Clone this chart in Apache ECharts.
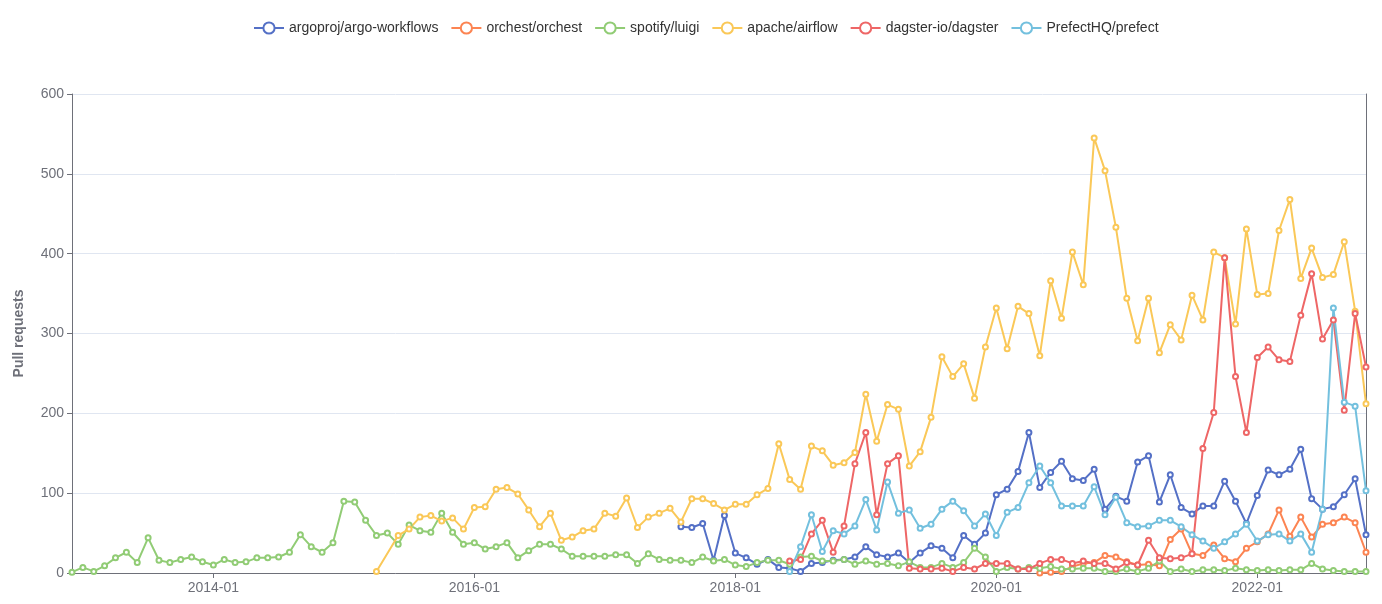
<!DOCTYPE html>
<html>
<head>
<meta charset="utf-8">
<script src="https://cdn.jsdelivr.net/npm/echarts@6/dist/echarts.min.js"></script>
<style>html,body{margin:0;padding:0;background:#fff;}#c{width:1382px;height:604px;}</style>
</head>
<body>
<div id="c"></div>
<script>
// Monthly categories: 2012-12 .. 2022-11 (120 months)
const startYear = 2012, startMonth = 12, monthCount = 120;
const categories = [];
for (let i = 0; i < monthCount; i++) {
  const t = (startMonth - 1) + i;
  const y = startYear + Math.floor(t / 12);
  const m = (t % 12) + 1;
  categories.push(y + '-' + (m < 10 ? '0' + m : '' + m));
}
const xTickLabels = ['2014-01', '2016-01', '2018-01', '2020-01', '2022-01'];
const seriesNames = ['argoproj/argo-workflows', 'orchest/orchest', 'spotify/luigi', 'apache/airflow', 'dagster-io/dagster', 'PrefectHQ/prefect'];

const N = null;
// argoproj/argo-workflows (starts 2017-08)
const argo = [N,N,N,N,N,N,N,N,N,N, N,N,N,N,N,N,N,N,N,N, N,N,N,N,N,N,N,N,N,N,
  N,N,N,N,N,N,N,N,N,N, N,N,N,N,N,N,N,N,N,N, N,N,N,N,N,N,
  58,57,62,16,72,25,19,11,17,7, 6,2,12,13,16,17,20,33,23,20,
  25,13,25,34,31,19,47,36,50,98, 105,127,176,107,126,140,118,116,130,80,
  96,90,139,147,89,123,82,74,84,84, 115,90,62,97,129,123,130,155,93,80,
  83,98,118,48];
// orchest/orchest (starts 2020-05)
const orchest = [N,N,N,N,N,N,N,N,N,N, N,N,N,N,N,N,N,N,N,N, N,N,N,N,N,N,N,N,N,N,
  N,N,N,N,N,N,N,N,N,N, N,N,N,N,N,N,N,N,N,N, N,N,N,N,N,N,N,N,N,N,
  N,N,N,N,N,N,N,N,N,N, N,N,N,N,N,N,N,N,N,N, N,N,N,N,N,N,N,N,N,
  0,1,2,8,12,13,22,20,14,10, 11,9,42,55,24,22,35,18,14,31,
  39,49,79,46,70,45,61,63,70,63, 26];
// spotify/luigi
const luigi = [1,7,2,9,19,26,13,44,16,13, 17,20,14,10,17,13,14,19,19,20,
  26,48,33,26,38,90,89,66,47,50, 36,60,53,51,75,51,36,38,30,33,
  38,19,28,36,36,30,21,21,21,21, 23,23,12,24,17,16,16,13,20,15,
  17,10,8,13,16,16,11,20,21,15, 15,17,11,15,11,12,9,14,7,7,
  12,7,13,31,20,2,7,5,7,6, 8,5,5,6,6,2,2,5,2,6,
  15,2,5,2,4,4,3,6,4,3, 4,3,4,4,12,5,3,2,2,2];
// apache/airflow (starts 2015-04)
const airflow = [N,N,N,N,N,N,N,N,N,N, N,N,N,N,N,N,N,N,N,N, N,N,N,N,N,N,N,N,
  2,N,47,55,70,72,65,69,55,82,83,105, 107,99,79,58,75,41,45,53,55,75,
  71,94,57,70,75,81,64,93,93,87, 79,86,86,98,106,162,117,105,159,153,
  135,138,151,224,165,211,205,134,152,195, 271,246,262,219,283,332,281,334,325,272,
  366,319,402,361,545,504,433,344,291,344, 276,311,292,348,317,402,395,312,431,349,
  350,429,468,369,407,370,374,415,328,212];
// dagster-io/dagster (starts 2018-06)
const dagster = [N,N,N,N,N,N,N,N,N,N, N,N,N,N,N,N,N,N,N,N, N,N,N,N,N,N,N,N,N,N,
  N,N,N,N,N,N,N,N,N,N, N,N,N,N,N,N,N,N,N,N, N,N,N,N,N,N,N,N,N,N, N,N,N,N,N,N,
  15,17,49,66,26,59,137,176,73,137, 147,6,5,5,6,2,7,5,12,12,
  12,5,5,12,17,17,12,15,12,12, 5,13,10,41,19,18,19,24,156,201,
  395,246,176,270,283,267,265,323,375,293, 317,204,325,258];
// PrefectHQ/prefect (starts 2018-06)
const prefect = [N,N,N,N,N,N,N,N,N,N, N,N,N,N,N,N,N,N,N,N, N,N,N,N,N,N,N,N,N,N,
  N,N,N,N,N,N,N,N,N,N, N,N,N,N,N,N,N,N,N,N, N,N,N,N,N,N,N,N,N,N, N,N,N,N,N,N,
  2,33,73,27,53,49,59,92,54,114, 75,79,56,61,80,90,78,59,74,47,
  76,82,113,134,113,84,84,84,108,73, 95,63,58,59,66,66,58,48,40,31,
  39,49,61,40,48,49,40,49,26,80, 332,214,209,103];

const colors = ['#5470c6', '#fc8452', '#91cc75', '#fac858', '#ee6666', '#73c0de'];
const seriesData = [argo, orchest, luigi, airflow, dagster, prefect];

const chart = echarts.init(document.getElementById('c'), null, {renderer: 'canvas'});
const axisGray = '#6E7079';
chart.setOption({
  animation: false,
  color: colors,
  textStyle: {fontFamily: 'Liberation Sans, Arial, sans-serif'},
  legend: {
    top: 16,
    left: 248,
    itemGap: 12,
    itemWidth: 30,
    itemHeight: 14,
    textStyle: {fontSize: 14, color: '#333'},
    data: seriesNames
  },
  grid: {left: 72, right: 16, top: 94, bottom: 31, containLabel: false},
  xAxis: {
    type: 'category',
    data: categories,
    boundaryGap: false,
    axisLine: {lineStyle: {color: axisGray}},
    axisTick: {interval: (i, v) => xTickLabels.indexOf(v) >= 0, lineStyle: {color: axisGray}},
    axisLabel: {interval: (i, v) => xTickLabels.indexOf(v) >= 0, color: axisGray, fontSize: 14, margin: 8},
    splitLine: {show: false}
  },
  yAxis: [{
    type: 'value',
    min: 0, max: 600, interval: 100,
    name: 'Pull requests',
    nameLocation: 'middle',
    nameGap: 46,
    nameTextStyle: {fontWeight: 'bold', color: axisGray, fontSize: 14},
    axisLine: {show: true, lineStyle: {color: axisGray}},
    axisTick: {show: true, lineStyle: {color: axisGray}},
    axisLabel: {color: axisGray, fontSize: 14},
    splitLine: {lineStyle: {color: '#E0E6F1'}}
  }, {
    type: 'value',
    min: 0, max: 600, interval: 100,
    position: 'right',
    axisLine: {show: true, lineStyle: {color: axisGray}},
    axisTick: {show: false},
    axisLabel: {show: false},
    splitLine: {show: false}
  }],
  series: seriesNames.map((name, i) => ({
    name: name,
    type: 'line',
    data: seriesData[i],
    connectNulls: true,
    symbol: 'emptyCircle',
    symbolSize: 5,
    lineStyle: {width: 2},
    itemStyle: {color: colors[i]}
  }))
});
</script>
</body>
</html>
